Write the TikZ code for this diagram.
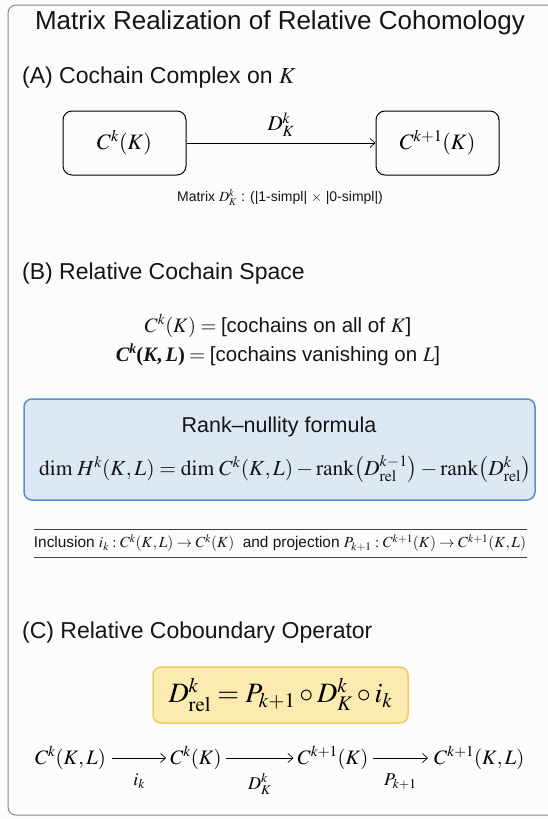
\documentclass[tikz,border=0pt]{standalone}
\usepackage{amsmath}
\usepackage{mathptmx}
\usepackage{fontspec}
\newfontfamily\sansf{Liberation Sans}
\newfontfamily\serifbf{Liberation Serif}
\usetikzlibrary{arrows.meta}
\definecolor{bluefill}{HTML}{DCE8F4}
\definecolor{blueline}{HTML}{5B8FCB}
\definecolor{yelfill}{HTML}{FBEBB0}
\definecolor{yelline}{HTML}{F0CC66}
\definecolor{framegray}{HTML}{8A8A8A}
\definecolor{bgcol}{HTML}{FCFCFA}
\definecolor{txt}{HTML}{151515}
\tikzset{
  title/.style={font=\sansf\fontsize{26}{30}\selectfont, inner sep=0pt, text=txt},
  heading/.style={font=\sansf\fontsize{23}{27}\selectfont, anchor=west, inner sep=0pt, text=txt},
  cbox/.style={draw=black, line width=1pt, rounded corners=9pt, minimum width=123pt, minimum height=64pt, font=\fontsize{22}{26}\selectfont},
  mtext/.style={font=\fontsize{20.5}{24}\selectfont, inner sep=0pt, text=txt},
  small/.style={font=\sansf\fontsize{14}{16}\selectfont, inner sep=0pt, text=txt},
  arr/.style={-{Straight Barb[length=5pt,width=9pt]}, line width=0.7pt},
  chain/.style={font=\fontsize{20.5}{24}\selectfont, inner sep=0pt},
  lab/.style={font=\fontsize{18}{21}\selectfont, inner sep=0pt},
}
\begin{document}
\begin{tikzpicture}[x=1pt,y=-1pt]
\useasboundingbox (0,0) rectangle (548,819);
\fill[bgcol] (0,0) rectangle (548,819);
\draw[framegray, line width=1pt, rounded corners=8pt] (8,5) rectangle (580,815);

\node[title] (t) at (280,23) {Matrix Realization of Relative Cohomology};

% (A)
\node[heading] (ha) at (22,78) {(A) Cochain Complex on $K$};
\node[cbox] (ck) at (124.5,143) {$C^k(K)$};
\node[cbox] (ck1) at (437.5,143) {$C^{k+1}(K)$};
\draw[arr] (ck) -- node[above=6pt, font=\fontsize{21}{24}\selectfont, inner sep=0pt] (dl) {$D^k_K$} (ck1);
\node[small] (mat) at (280,197) {Matrix $D^k_K$ : (|1-simpl| $\times$ |0-simpl|)};

% (B)
\node[heading] (hb) at (22,274) {(B) Relative Cochain Space};
\node[mtext] (e1) at (278,326) {$C^k(K) = {}$\sansf[cochains on all of $K$]};
\node[mtext] (e2) at (278,355) {{\serifbf\bfseries\itshape C\raisebox{0.42em}{\fontsize{14}{16}\selectfont k}\upshape(\itshape K\upshape,\,\itshape L\upshape)}$\;= {}$\sansf[cochains vanishing on $L$]};

\node[draw=blueline, fill=bluefill, line width=1.5pt, rounded corners=8pt, minimum width=511pt, minimum height=101pt] (bb) at (279.5,449.5) {};
\node[font=\sansf\fontsize{21.5}{25}\selectfont, inner sep=0pt, text=txt] (rn) at (279,427) {Rank\textendash nullity formula};
\node[font=\fontsize{21.5}{25}\selectfont, inner sep=0pt, text=txt] (rf) at (285,469) {$\dim\, H^k(K,L) = \dim\, C^k(K,L) - \operatorname{rank}\bigl(D^{k-1}_{\mathrm{rel}}\bigr) - \operatorname{rank}\bigl(D^{k}_{\mathrm{rel}}\bigr)$};

\draw[black!75, line width=0.8pt] (34,529) -- (527,529);
\draw[black!75, line width=0.8pt] (34,557) -- (527,557);
\node[font=\sansf\fontsize{15.4}{18}\selectfont, inner sep=0pt, text=txt] (inc) at (280,543) {Inclusion $i_k : C^k(K,L) \to C^k(K)$\ \ and projection $P_{k+1} : C^{k+1}(K) \to C^{k+1}(K,L)$};

% (C)
\node[heading] (hc) at (22,633) {(C) Relative Coboundary Operator};
\node[draw=yelline, fill=yelfill, line width=1.5pt, rounded corners=8pt, minimum width=255pt, minimum height=56pt, font=\fontsize{28}{32}\selectfont] (yb) at (280.5,695) {$D^k_{\mathrm{rel}} = P_{k+1} \circ D^k_K \circ i_k$};

\node[chain, anchor=east] (a1) at (106,758) {$C^k(K,L)$};
\node[chain] (a2) at (196,758) {$C^k(K)$};
\node[chain] (a3) at (333,758) {$C^{k+1}(K)$};
\node[chain, anchor=west] (a4) at (434,758) {$C^{k+1}(K,L)$};
\draw[arr] ([xshift=6pt]a1.east) -- node[below=15pt, lab] {$i_k$} ([xshift=-4pt]a2.west);
\draw[arr] ([xshift=4pt]a2.east) -- node[below=15pt, lab] {$D^k_K$} ([xshift=-4pt]a3.west);
\draw[arr] ([xshift=4pt]a3.east) -- node[below=15pt, lab] {$P_{k+1}$} ([xshift=-6pt]a4.west);
\end{tikzpicture}
\end{document}
